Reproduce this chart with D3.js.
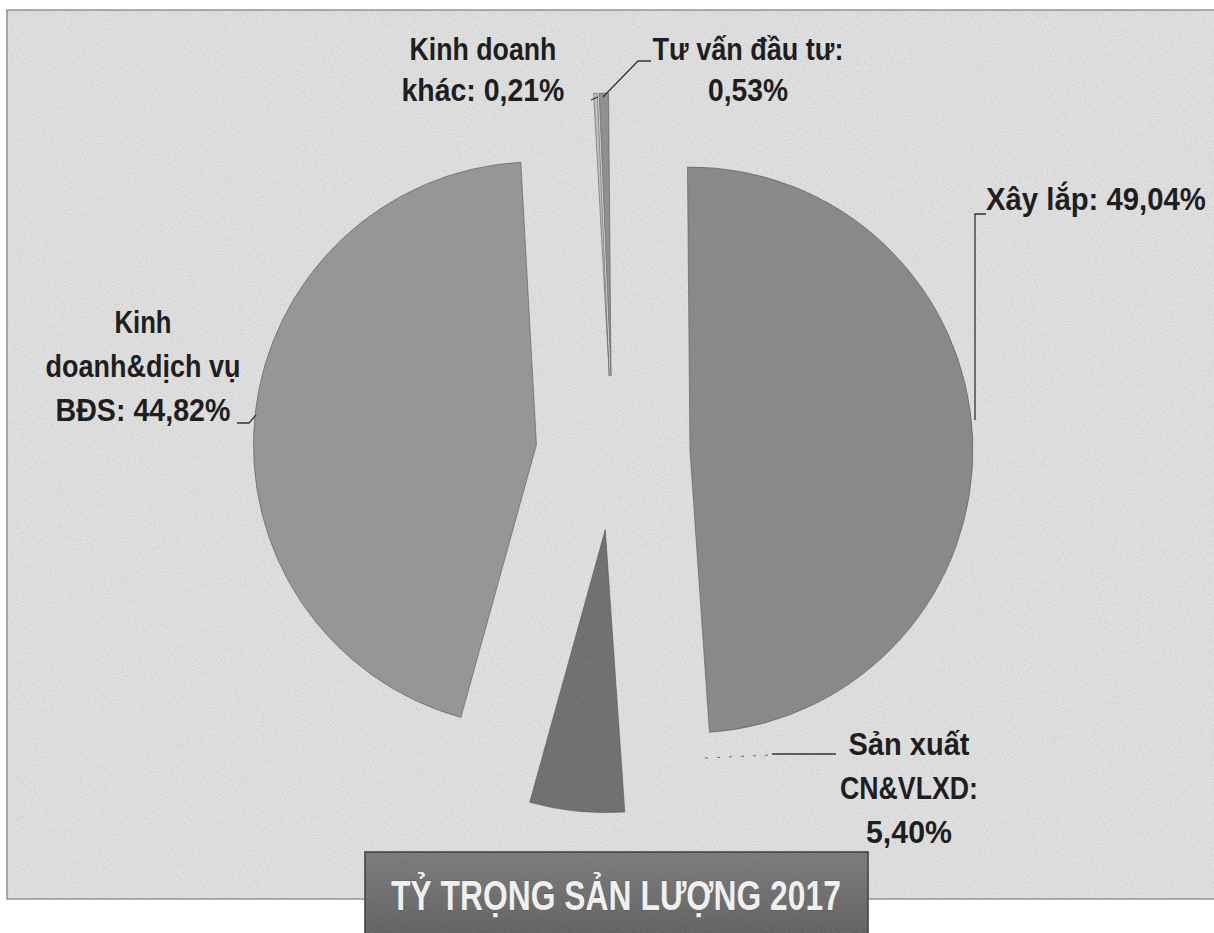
<!DOCTYPE html>
<html>
<head>
<meta charset="utf-8">
<script src="https://cdn.jsdelivr.net/npm/d3@7/dist/d3.min.js"></script>
<style>
  html, body { margin: 0; padding: 0; background: #ffffff; }
  svg { display: block; }
</style>
</head>
<body>
<svg id="chart" width="1214" height="933"></svg>
<script>
// ---- data ----
const categories = ["Xây lắp", "Sản xuất CN&VLXD", "Kinh doanh&dịch vụ BĐS", "Kinh doanh khác", "Tư vấn đầu tư"];
const values = [49.04, 5.40, 44.82, 0.21, 0.53];
const valueLabels = ["49,04%", "5,40%", "44,82%", "0,21%", "0,53%"];
const labelLines = [
  ["Xây lắp: 49,04%"],
  ["Sản xuất", "CN&VLXD:", "5,40%"],
  ["Kinh", "doanh&dịch vụ", "BĐS: 44,82%"],
  ["Kinh doanh", "khác: 0,21%"],
  ["Tư vấn đầu tư:", "0,53%"]
];
const sliceColors = ["#878787", "#6c6c6c", "#959595", "#c4c4c4", "#8e8e8e"];
const title = "TỶ TRỌNG SẢN LƯỢNG 2017";

// ---- layout ----
const svg = d3.select("#chart");
const FONT = "'Liberation Sans', Arial, sans-serif";
const cx = 613, cy = 453, R = 283, explode = 77;
const rot = -0.5 * Math.PI / 180;

const defs = svg.append("defs");
const noise = defs.append("filter").attr("id", "noise").attr("x", 0).attr("y", 0).attr("width", "100%").attr("height", "100%");
noise.append("feTurbulence").attr("type", "fractalNoise").attr("baseFrequency", 0.9).attr("numOctaves", 2).attr("seed", 3).attr("result", "t");
noise.append("feColorMatrix").attr("in", "t").attr("type", "matrix")
  .attr("values", "0 0 0 0 0.35  0 0 0 0 0.35  0 0 0 0 0.35  0 0 0 -1.1 0.75");
const grad = defs.append("linearGradient").attr("id", "boxGrad").attr("x1", 0).attr("y1", 0).attr("x2", 0).attr("y2", 1);
grad.append("stop").attr("offset", "0%").attr("stop-color", "#7a7a7a");
grad.append("stop").attr("offset", "100%").attr("stop-color", "#5e5e5e");

// frame background
svg.append("rect").attr("x", 7).attr("y", 10).attr("width", 1220).attr("height", 889)
  .attr("fill", "#e3e3e3").attr("stroke", "#7a7a7a").attr("stroke-width", 1.2);

// pie
const pie = d3.pie().sort(null).value(d => d)
  .startAngle(rot).endAngle(2 * Math.PI + rot);
const arcs = pie(values);
const arcGen = d3.arc().innerRadius(0).outerRadius(R);

const g = svg.append("g").attr("transform", `translate(${cx},${cy})`);
g.selectAll("path.slice").data(arcs).enter().append("path")
  .attr("class", "slice")
  .attr("d", arcGen)
  .attr("transform", d => {
    const m = (d.startAngle + d.endAngle) / 2;
    return `translate(${explode * Math.sin(m)},${-explode * Math.cos(m)})`;
  })
  .attr("fill", (d, i) => sliceColors[i])
  .attr("stroke", "#4a4a4a").attr("stroke-width", 0.8).attr("stroke-opacity", 0.7);

// noise overlay over the frame
svg.append("rect").attr("x", 7).attr("y", 10).attr("width", 1220).attr("height", 889)
  .attr("filter", "url(#noise)").attr("opacity", 0.5);

// leader lines
const leaders = [
  [[975, 420], [975, 214], [986, 214]],
  [[772, 754], [836, 754]],
  [[237, 423], [249, 423], [256, 415]],
  [[591, 100], [598, 97]],
  [[603, 97], [638, 61], [651, 61]]
];
svg.selectAll("path.leader").data(leaders).enter().append("path")
  .attr("class", "leader")
  .attr("d", d => d3.line()(d))
  .attr("fill", "none").attr("stroke", "#333").attr("stroke-width", 1.3);
svg.append("path").attr("d", d3.line()([[705, 758], [772, 755]]))
  .attr("fill", "none").attr("stroke", "#666").attr("stroke-width", 1).attr("stroke-dasharray", "3,9");

// condensed text helper: scales the glyphs horizontally to a target width
function condensedText(str, x0, y, w, size, fill) {
  const t = svg.append("text").attr("x", 0).attr("y", 0)
    .attr("font-family", FONT).attr("font-weight", "bold").attr("font-size", size)
    .attr("fill", fill).text(str);
  const nat = t.node().getComputedTextLength() || w;
  t.attr("transform", `translate(${x0},${y}) scale(${w / nat},1)`);
  return t;
}

// labels
const labelPos = [
  { x: 986, y: 210, lh: 0, anchor: "start", w: [220] },
  { x: 909, y: 755, lh: 44, anchor: "middle", w: [121, 138, 86] },
  { x: 143, y: 333, lh: 44, anchor: "middle", w: [57, 195, 175] },
  { x: 483, y: 60, lh: 41, anchor: "middle", w: [147, 163] },
  { x: 748, y: 60, lh: 41, anchor: "middle", w: [191, 80] }
];
labelLines.forEach((lines, i) => {
  const p = labelPos[i];
  lines.forEach((ln, k) => {
    const w = p.w[k];
    const x0 = p.anchor === "middle" ? p.x - w / 2 : p.x;
    condensedText(ln, x0, p.y + k * p.lh, w, 32, "#1e1e1e");
  });
});

// title box
svg.append("rect").attr("x", 365).attr("y", 852).attr("width", 503).attr("height", 90)
  .attr("fill", "url(#boxGrad)").attr("stroke", "#3a3a3a").attr("stroke-width", 1.5);
svg.append("rect").attr("x", 365).attr("y", 852).attr("width", 503).attr("height", 90)
  .attr("filter", "url(#noise)").attr("opacity", 0.35);
condensedText(title, 391, 910, 450, 42, "#f0f0f0")
  .attr("stroke", "#3a3a3a").attr("stroke-width", 0.4).attr("paint-order", "stroke");
</script>
</body>
</html>
